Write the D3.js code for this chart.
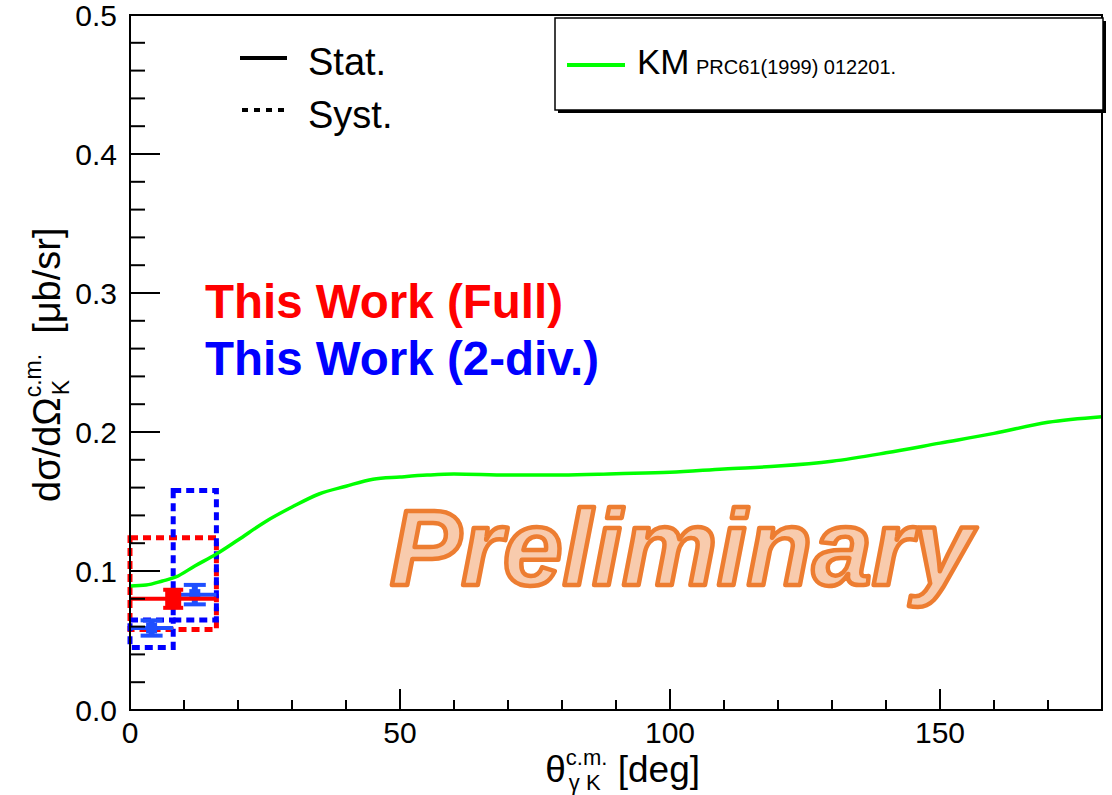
<!DOCTYPE html>
<html>
<head>
<meta charset="utf-8">
<script src="https://cdn.jsdelivr.net/npm/d3@7"></script>
<style>
  html, body { margin: 0; padding: 0; background: #fff; }
  svg { display: block; }
  text { font-family: "Liberation Sans", Arial, sans-serif; }
</style>
</head>
<body>
<svg id="chart" width="1112" height="795"></svg>
<script>
// KM isobar model prediction, PRC61(1999) 012201
const kmTheta = [0, 3, 6, 8.5, 12, 16, 20, 25, 30, 35, 40, 45, 50, 55, 60, 70, 80, 90, 100, 110, 120, 130, 140, 150, 160, 170, 180];
const kmDsig  = [0.0892, 0.0899, 0.0928, 0.0957, 0.1036, 0.1122, 0.1223, 0.1353, 0.146, 0.1554, 0.161, 0.166, 0.1676, 0.169, 0.1698, 0.169, 0.169, 0.170, 0.171, 0.1734, 0.1755, 0.179, 0.185, 0.192, 0.199, 0.207, 0.211];

// This work, full angular bin
const fullTheta   = [8];
const fullBinLo   = [0];
const fullBinHi   = [16];
const fullDsig    = [0.080];
const fullStat    = [0.0065];
const fullSystLo  = [0.058];
const fullSystHi  = [0.124];

// This work, two angular bins
const divTheta    = [4, 12];
const divBinLo    = [0, 8];
const divBinHi    = [8, 16];
const divDsig     = [0.059, 0.083];
const divStat     = [0.0055, 0.007];
const divSystLo   = [0.045, 0.0647];
const divSystHi   = [0.0647, 0.158];

const xTicks = [0, 50, 100, 150];
const yTicks = [0.0, 0.1, 0.2, 0.3, 0.4, 0.5];

const svg = d3.select("#chart");
const x = d3.scaleLinear().domain([0, 180]).range([130, 1102]);
const y = d3.scaleLinear().domain([0, 0.5]).range([710, 15]);

// ---- rich text helper: main runs plus stacked super/subscripts ----
function richText(g, segs) {
  let cx = 0;
  segs.forEach(s => {
    if (s.t !== undefined) {
      const t = g.append("text").attr("x", cx + (s.dx || 0)).attr("y", 0)
        .attr("font-size", s.size).attr("fill", "#000")
        .attr("xml:space", "preserve").text(s.t);
      cx += (s.dx || 0) + t.node().getComputedTextLength();
    } else {
      let w = 0;
      if (s.sup) {
        const t = g.append("text").attr("x", cx + (s.supDx || 0)).attr("y", s.supY)
          .attr("font-size", s.size).attr("fill", "#000").text(s.sup);
        w = Math.max(w, t.node().getComputedTextLength() + (s.supDx || 0));
      }
      if (s.sub) {
        const t = g.append("text").attr("x", cx + (s.subDx || 0)).attr("y", s.subY)
          .attr("font-size", s.size).attr("fill", "#000")
          .attr("xml:space", "preserve").text(s.sub);
        w = Math.max(w, t.node().getComputedTextLength() + (s.subDx || 0));
      }
      cx += w;
    }
  });
  return cx;
}

// ---- systematic boxes (dotted) ----
const systG = svg.append("g");
systG.selectAll("rect.full").data(fullTheta).join("rect")
  .attr("x", (d, i) => x(fullBinLo[i]))
  .attr("width", (d, i) => x(fullBinHi[i]) - x(fullBinLo[i]))
  .attr("y", (d, i) => y(fullSystHi[i]))
  .attr("height", (d, i) => y(fullSystLo[i]) - y(fullSystHi[i]))
  .attr("fill", "none").attr("stroke", "#ff0000")
  .attr("stroke-width", 5).attr("stroke-dasharray", "8,5");
systG.selectAll("rect.div").data(divTheta).join("rect")
  .attr("x", (d, i) => x(divBinLo[i]))
  .attr("width", (d, i) => x(divBinHi[i]) - x(divBinLo[i]))
  .attr("y", (d, i) => y(divSystHi[i]))
  .attr("height", (d, i) => y(divSystLo[i]) - y(divSystHi[i]))
  .attr("fill", "none").attr("stroke", "#0000ff")
  .attr("stroke-width", 5).attr("stroke-dasharray", "8,5");

// ---- KM curve ----
const line = d3.line().x((d, i) => x(kmTheta[i])).y(d => y(d)).curve(d3.curveMonotoneX);
svg.append("path").datum(kmDsig).attr("d", line)
  .attr("fill", "none").attr("stroke", "#00ff00").attr("stroke-width", 3.5);

// ---- data points with stat errors ----
function drawPoints(theta, lo, hi, val, stat, color, msize, capW) {
  const g = svg.append("g").attr("stroke", color).attr("fill", color);
  theta.forEach((t, i) => {
    g.append("line").attr("x1", x(lo[i])).attr("x2", x(hi[i]))
      .attr("y1", y(val[i])).attr("y2", y(val[i])).attr("stroke-width", 4);
    g.append("line").attr("x1", x(t)).attr("x2", x(t))
      .attr("y1", y(val[i] + stat[i])).attr("y2", y(val[i] - stat[i])).attr("stroke-width", 6);
    [val[i] + stat[i], val[i] - stat[i]].forEach(v => {
      g.append("line").attr("x1", x(t) - capW / 2).attr("x2", x(t) + capW / 2)
        .attr("y1", y(v)).attr("y2", y(v)).attr("stroke-width", 4);
    });
    g.append("rect").attr("x", x(t) - msize / 2).attr("y", y(val[i]) - msize / 2)
      .attr("width", msize).attr("height", msize).attr("stroke", "none");
  });
}
drawPoints(divTheta, divBinLo, divBinHi, divDsig, divStat, "#1f4fff", 11, 22);
drawPoints(fullTheta, fullBinLo, fullBinHi, fullDsig, fullStat, "#ff0000", 16, 20);

// ---- frame and axes ----
svg.append("rect").attr("x", x(0)).attr("y", y(0.5))
  .attr("width", x(180) - x(0)).attr("height", y(0) - y(0.5))
  .attr("fill", "none").attr("stroke", "#000").attr("stroke-width", 2);

const axG = svg.append("g").attr("stroke", "#000").attr("stroke-width", 2);
// y ticks
d3.range(0, 0.5001, 0.02).forEach(v => {
  const major = Math.abs(v * 10 - Math.round(v * 10)) < 1e-6;
  axG.append("line").attr("x1", x(0)).attr("x2", x(0) + (major ? 30 : 15))
    .attr("y1", y(v)).attr("y2", y(v));
});
// x ticks
d3.range(0, 180.001, 10).forEach(v => {
  const major = v % 50 === 0;
  axG.append("line").attr("x1", x(v)).attr("x2", x(v))
    .attr("y1", y(0)).attr("y2", y(0) - (major ? 21 : 10));
});

svg.append("g").selectAll("text").data(yTicks).join("text")
  .attr("x", 117).attr("y", d => y(d)).attr("dy", "0.36em")
  .attr("text-anchor", "end").attr("font-size", 30).text(d => d.toFixed(1));

svg.append("g").selectAll("text").data(xTicks).join("text")
  .attr("x", d => x(d)).attr("y", 743)
  .attr("text-anchor", "middle").attr("font-size", 30).text(d => d);

// x title
const xt = svg.append("g");
const xw = richText(xt, [
  { t: "θ", size: 37 },
  { sup: "c.m.", sub: "γ K", size: 22, supY: -17, subY: 8, subDx: 3 },
  { t: " [deg]", size: 37 }
]);
xt.attr("transform", `translate(${700 - xw},782)`);

// y title
const yt = svg.append("g");
const yw = richText(yt, [
  { t: "dσ/dΩ", size: 38 },
  { sup: "c.m.", sub: "K", size: 23, supY: -19, subY: 9, subDx: 2 },
  { t: "[μb/sr]", size: 38, dx: 20 }
]);
yt.attr("transform", `translate(60,${502}) rotate(-90)`);

// ---- legend box (model) ----
svg.append("rect").attr("x", 558).attr("y", 21).attr("width", 548).attr("height", 92).attr("fill", "#000");
svg.append("rect").attr("x", 555).attr("y", 18).attr("width", 548).attr("height", 92)
  .attr("fill", "#fff").attr("stroke", "#000").attr("stroke-width", 1.5);
svg.append("line").attr("x1", 567).attr("x2", 625).attr("y1", 65).attr("y2", 65)
  .attr("stroke", "#00ff00").attr("stroke-width", 4);
svg.append("text").attr("x", 637).attr("y", 74).attr("font-size", 35).text("KM");
svg.append("text").attr("x", 696).attr("y", 74).attr("font-size", 20).text("PRC61(1999) 012201.");

// ---- error-type legend ----
svg.append("line").attr("x1", 240).attr("x2", 287).attr("y1", 58).attr("y2", 58)
  .attr("stroke", "#000").attr("stroke-width", 4);
svg.append("line").attr("x1", 242).attr("x2", 285).attr("y1", 110).attr("y2", 110)
  .attr("stroke", "#000").attr("stroke-width", 4).attr("stroke-dasharray", "6,6");
svg.append("text").attr("x", 308).attr("y", 75).attr("font-size", 38).text("Stat.");
svg.append("text").attr("x", 308).attr("y", 128).attr("font-size", 38).text("Syst.");

// ---- dataset labels ----
svg.append("text").attr("x", 205).attr("y", 318).attr("font-size", 47.5)
  .attr("font-weight", "bold").attr("fill", "#ff0000").text("This Work (Full)");
svg.append("text").attr("x", 205).attr("y", 375).attr("font-size", 47.5)
  .attr("font-weight", "bold").attr("fill", "#0000ff").text("This Work (2-div.)");

// ---- preliminary stamp ----
svg.append("text").attr("x", 390).attr("y", 585).attr("font-size", 107)
  .attr("font-weight", "bold").attr("font-style", "italic")
  .attr("fill", "#f8cbad").attr("stroke", "#ed7d31").attr("stroke-width", 4.5)
  .attr("stroke-linejoin", "round").text("Preliminary");
</script>
</body>
</html>
